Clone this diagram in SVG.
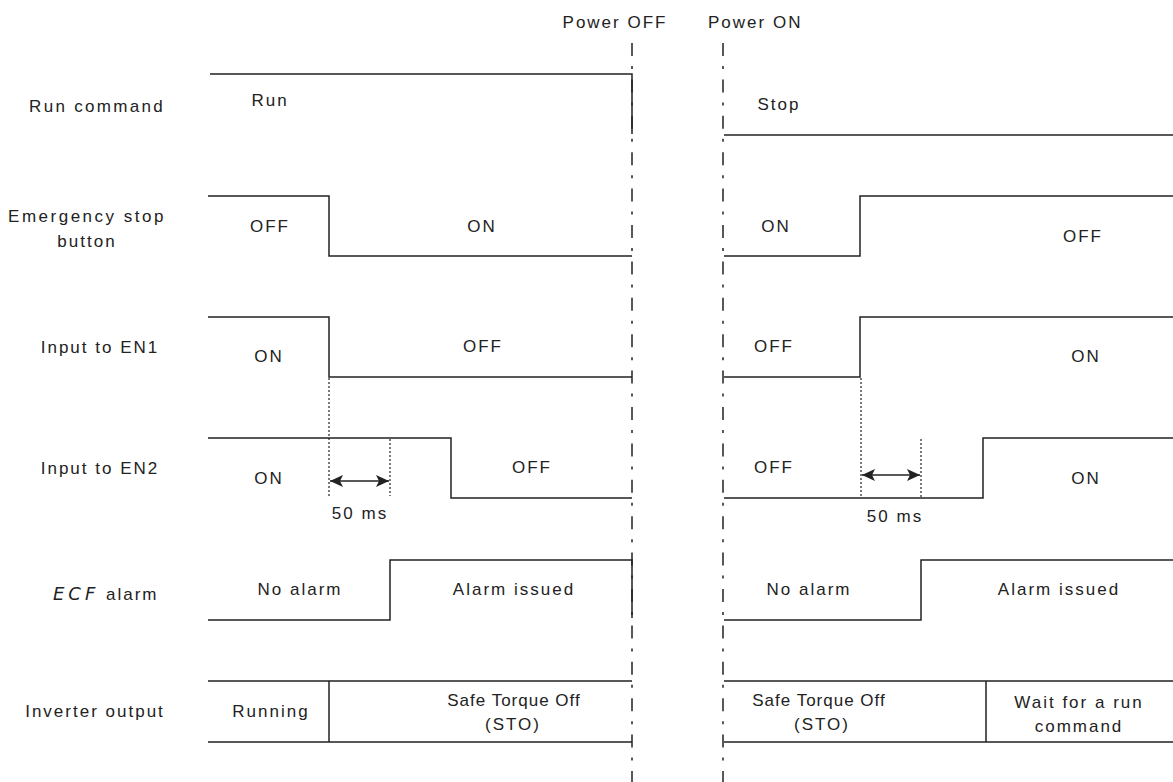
<svg xmlns="http://www.w3.org/2000/svg" width="1173" height="782" viewBox="0 0 1173 782">
<style>
.t{font-family:"Liberation Sans",Arial,sans-serif;font-size:17px;letter-spacing:2px;fill:#222}
.c{text-anchor:middle}
.w{fill:none;stroke:#222;stroke-width:1.5}
.dd{fill:none;stroke:#222;stroke-width:1.5;stroke-dasharray:13 10 3 10.4}
.dt{fill:none;stroke:#222;stroke-width:1.2;stroke-dasharray:2 2}
.ar{fill:none;stroke:#222;stroke-width:1.5;marker-start:url(#ah);marker-end:url(#ah)}
</style>
<defs>
<marker id="ah" viewBox="0 0 13 12" refX="13" refY="6" markerWidth="13" markerHeight="12" markerUnits="userSpaceOnUse" orient="auto-start-reverse">
<path d="M0,0 L13,6 L0,12 L3,6 Z" fill="#222"/>
</marker>
</defs>
<rect width="1173" height="782" fill="#fff"/>

<g id="power-labels">
<text class="t c" x="615" y="28">Power OFF</text>
<text class="t" x="708" y="28">Power ON</text>
</g>

<g id="run-command">
<text class="t c" x="97" y="112" style="letter-spacing:2.3px">Run command</text>
<path class="w" d="M210,74 H632 V134"/>
<path class="w" d="M724,135 H1173"/>
<text class="t c" x="270" y="106">Run</text>
<text class="t c" x="779" y="110">Stop</text>
</g>

<g id="emergency-stop">
<text class="t c" x="87" y="222" style="letter-spacing:2.5px">Emergency stop</text>
<text class="t c" x="87" y="247">button</text>
<path class="w" d="M208,196 H329 V256 H632"/>
<path class="w" d="M724,256 H860 V196 H1173"/>
<text class="t c" x="270" y="232">OFF</text>
<text class="t c" x="482" y="232">ON</text>
<text class="t c" x="776" y="232">ON</text>
<text class="t c" x="1083" y="242">OFF</text>
</g>

<g id="input-en1">
<text class="t c" x="100" y="353">Input to EN1</text>
<path class="w" d="M208,317 H329 V377 H632"/>
<path class="w" d="M724,377 H860 V317 H1173"/>
<text class="t c" x="269" y="362">ON</text>
<text class="t c" x="483" y="352">OFF</text>
<text class="t c" x="774" y="352">OFF</text>
<text class="t c" x="1086" y="362">ON</text>
</g>

<g id="input-en2">
<text class="t c" x="100" y="474">Input to EN2</text>
<path class="w" d="M208,438 H451 V498 H632"/>
<path class="w" d="M724,498 H983 V438 H1173"/>
<text class="t c" x="269" y="484">ON</text>
<text class="t c" x="532" y="473">OFF</text>
<text class="t c" x="774" y="473">OFF</text>
<text class="t c" x="1086" y="484">ON</text>
<text class="t c" x="360" y="519">50 ms</text>
<text class="t c" x="895" y="522">50 ms</text>
</g>

<g id="ecf-alarm">
<text class="t" x="53" y="600"><tspan font-style="italic" font-family="DejaVu Sans, sans-serif" font-weight="200" font-size="18" letter-spacing="4">ECF</tspan> alarm</text>
<path class="w" d="M208,620 H390 V560 H632 V618"/>
<path class="w" d="M724,620 H921 V560 H1173"/>
<text class="t c" x="300" y="595">No alarm</text>
<text class="t c" x="514" y="595">Alarm issued</text>
<text class="t c" x="809" y="595">No alarm</text>
<text class="t c" x="1059" y="595">Alarm issued</text>
</g>

<g id="inverter-output">
<text class="t c" x="95" y="717">Inverter output</text>
<path class="w" d="M208,681 H632 M208,742 H632 M329,681 V742"/>
<path class="w" d="M724,681 H1173 M724,742 H1173 M986,681 V742"/>
<text class="t c" x="271" y="717">Running</text>
<text class="t c" x="514" y="706" style="letter-spacing:1px">Safe Torque Off</text>
<text class="t c" x="513" y="730">(STO)</text>
<text class="t c" x="819" y="706" style="letter-spacing:1px">Safe Torque Off</text>
<text class="t c" x="822" y="730">(STO)</text>
<text class="t c" x="1079" y="708">Wait for a run</text>
<text class="t c" x="1079" y="732">command</text>
</g>

<g id="connectors">
<line class="dd" x1="632" y1="43" x2="632" y2="782"/>
<line class="dd" x1="723" y1="43" x2="723" y2="782"/>
<line class="dt" x1="329" y1="378" x2="329" y2="496"/>
<line class="dt" x1="390" y1="439" x2="390" y2="496"/>
<line class="dt" x1="861" y1="378" x2="861" y2="497"/>
<line class="dt" x1="921" y1="439" x2="921" y2="497"/>
<line class="ar" x1="330" y1="481" x2="389" y2="481"/>
<line class="ar" x1="862" y1="475" x2="920" y2="475"/>
</g>
</svg>
